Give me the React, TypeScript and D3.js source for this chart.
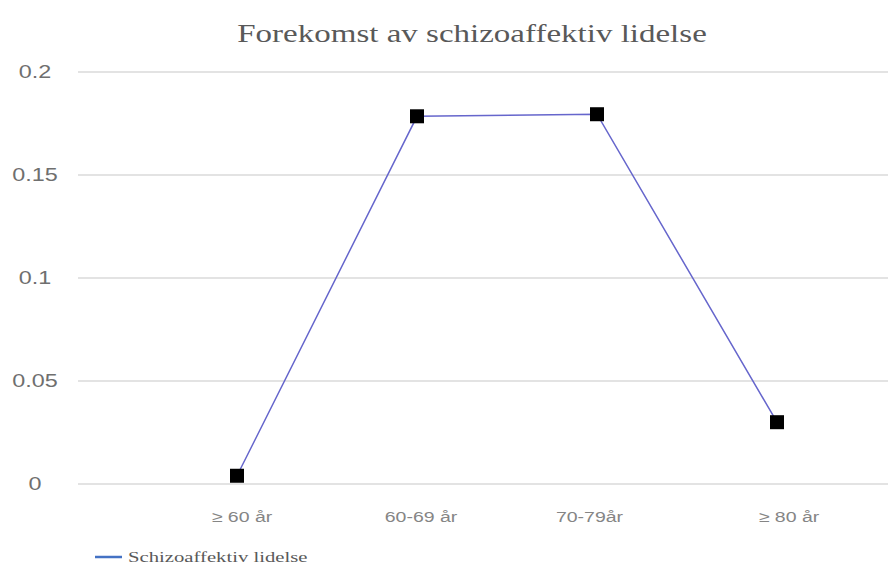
import React from "react";
import * as d3 from "d3";

const categories = ["\u2265 60 år", "60-69 år", "70-79år", "\u2265  80 år"];
const values = [0.004, 0.1785, 0.1795, 0.03];
const yTicks = [0, 0.05, 0.1, 0.15, 0.2];
const yTickLabels = ["0", "0.05", "0.1", "0.15", "0.2"];
const seriesName = "Schizoaffektiv lidelse";
const title = "Forekomst av schizoaffektiv lidelse";

const W = 888;
const H = 568;

export default function App() {
  const x = d3.scalePoint<string>().domain(categories).range([237, 777]);
  const y = d3.scaleLinear().domain([0, 0.2]).range([484, 72]);
  const line = d3
    .line<number>()
    .x((_, i) => x(categories[i]) as number)
    .y((d) => y(d));
  const serif = "'Liberation Serif', 'Times New Roman', serif";
  const sans = "'Liberation Sans', Arial, sans-serif";
  const labelX = [243, 421, 578, 797];
  return (
    <svg
      width={W}
      height={H}
      style={{ position: "absolute", left: 0, top: 0, background: "#fff" }}
    >
      <rect width={W} height={H} fill="#fff" />
      <text
        transform="translate(472,42) scale(1.27,1)"
        textAnchor="middle"
        fontFamily={serif}
        fontSize={26}
        fill="#595959"
      >
        {title}
      </text>
      {yTicks.map((t, i) => (
        <g key={t}>
          <line
            x1={78}
            x2={W}
            y1={y(t)}
            y2={y(t)}
            stroke="#e3e3e3"
            strokeWidth={2}
          />
          <text
            transform={`translate(35,${y(t)}) scale(1.3,1)`}
            dy="0.35em"
            textAnchor="middle"
            fontFamily={sans}
            fontSize={18}
            fill="#6f6f6f"
          >
            {yTickLabels[i]}
          </text>
        </g>
      ))}
      {categories.map((c, i) => (
        <text
          key={c}
          transform={`translate(${((x(c) as number) + labelX[i]) / 2 + 2},522) scale(1.3,1)`}
          textAnchor="middle"
          fontFamily={sans}
          fontSize={15}
          fill="#858585"
        >
          {c}
        </text>
      ))}
      <path d={line(values) || ""} fill="none" stroke="#6666cc" strokeWidth={1.5} />
      {values.map((v, i) => (
        <rect
          key={i}
          x={(x(categories[i]) as number) - 7}
          y={y(v) - 7}
          width={14}
          height={14}
          fill="#000"
        />
      ))}
      <line x1={95} x2={122} y1={557} y2={557} stroke="#4472c4" strokeWidth={2.5} />
      <text
        transform="translate(128,562) scale(1.38,1)"
        fontFamily={serif}
        fontSize={15}
        fill="#595959"
      >
        {seriesName}
      </text>
    </svg>
  );
}
